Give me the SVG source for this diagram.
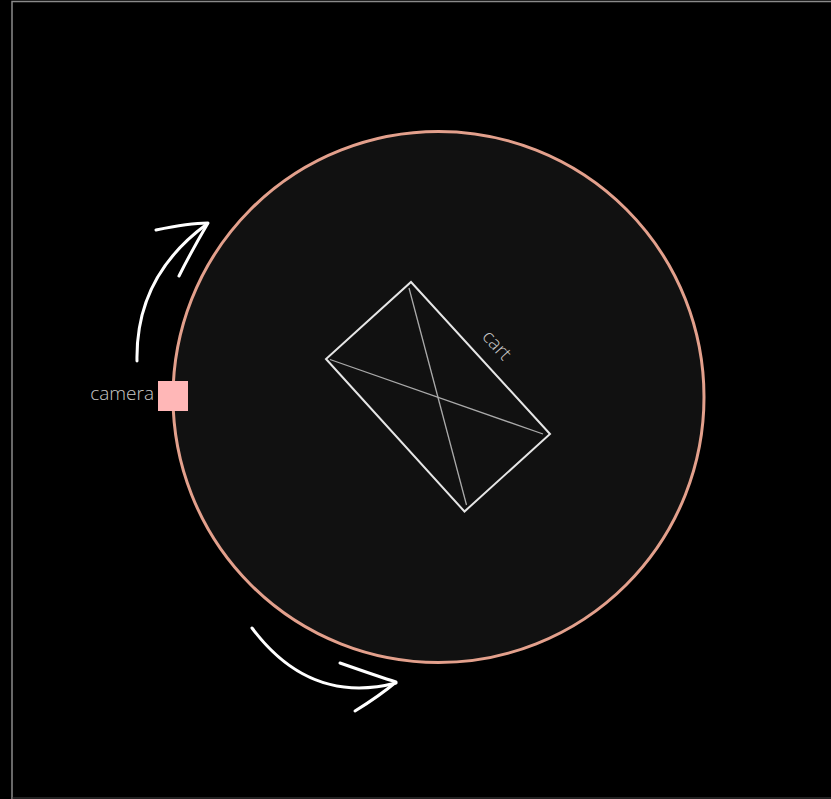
<svg xmlns="http://www.w3.org/2000/svg" width="831" height="799" viewBox="0 0 831 799">
<style>
.lbl{font-family:"Open Sans","Noto Sans","Liberation Sans",sans-serif;font-weight:300;fill:#c8c8c8;font-size:19px}
.arrow{fill:none;stroke:#fff;stroke-width:3;stroke-linecap:round;stroke-linejoin:round}
</style>
<rect x="0" y="0" width="831" height="799" fill="#000"/>
<path d="M12 799 V1.5 H831" fill="none" stroke="#8a8a8a" stroke-width="1.5"/>
<path d="M12 798 H831" fill="none" stroke="#444" stroke-width="1"/>
<g id="turntable">
<circle cx="438.5" cy="397" r="265.5" fill="#111" stroke="#e3a08c" stroke-width="3"/>
</g>
<g id="cart">
<polygon points="411,282 550,434 464.5,511.5 326,359" fill="none" stroke="#e6e6e6" stroke-width="2"/>
<line x1="409" y1="288" x2="466.5" y2="505" stroke="#aaa" stroke-width="1.3"/>
<line x1="330" y1="359.5" x2="543" y2="434" stroke="#aaa" stroke-width="1.3"/>
<text class="lbl" x="496" y="346" text-anchor="middle" dominant-baseline="middle" transform="rotate(47.6 496 346)" fill="#bbb">cart</text>
</g>
<g id="camera">
<rect x="158" y="381" width="30" height="30" fill="#ffb7b7"/>
<text class="lbl" x="154" y="400" text-anchor="end">camera</text>
</g>
<g id="connectors">
<path class="arrow" d="M137 361 C136 310 155 262 207 224"/>
<path class="arrow" d="M156 230 C175 226 195 223 208 223 C198 240 188 258 179 276"/>
<path class="arrow" d="M252 628 C285 672 330 700 396 683"/>
<path class="arrow" d="M340 663 C360 670 380 677 396 682 C383 693 368 703 355 711"/>
</g>
</svg>
